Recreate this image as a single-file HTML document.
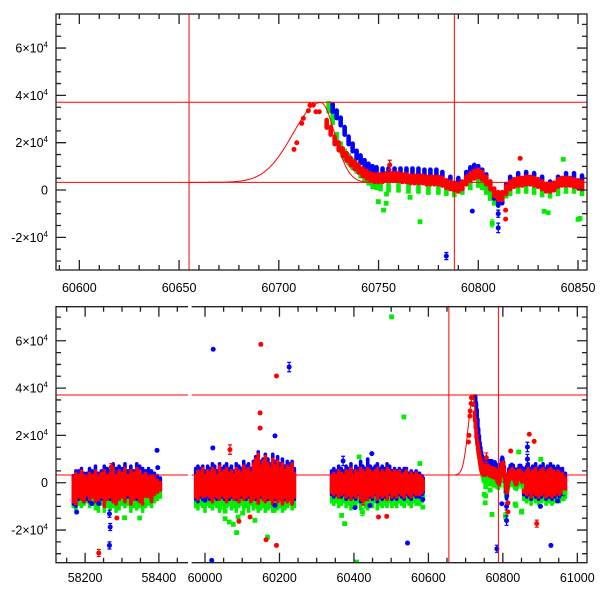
<!DOCTYPE html>
<html><head><meta charset="utf-8"><style>
html,body{margin:0;padding:0;background:#fff;}
svg{display:block;font-family:"Liberation Sans",sans-serif;}
</style></head><body>
<svg id="chart" width="600" height="600" viewBox="0 0 600 600" xmlns="http://www.w3.org/2000/svg">
<rect width="600" height="600" fill="#fff"/>
<defs>
<clipPath id="clipTop"><rect x="56" y="14" width="531" height="256"/></clipPath>
<clipPath id="clipBL"><rect x="56" y="306.7" width="132" height="256"/></clipPath>
<clipPath id="clipBR"><rect x="191.6" y="306.7" width="395.4" height="256"/></clipPath>
</defs>
<g id="layer"></g>
</svg>
<script>
// ---------- DATA (flux in units of 1000) ----------
const hLines = [37.08, 3.25];
const vLines = [60655, 60788];
const modelPeak = 60721, modelBase = 3.25, modelAmp = 33.75;

const aMjd = [58168,58175,58182,58190,58197,58205,58212,58220,58228,58236,58244,58252,58260,58268,58276,58284,58292,58300,58308,58316,58324,58332,58340,58348,58356,58364,58372,58380,58388,58396,58404];
const aRedLo = [-8,-9,-6,-7,-8,-5,-7,-6,-8,-9,-6,-10,-7,-6,-8,-9,-7,-6,-8,-5,-9,-7,-6,-8,-9,-7,-6,-8,-5,-4,-3];
const aRedHi = [2,4,3,5,3,2,4,3,5,2,4,5,3,4,6,3,5,4,6,3,5,4,6,5,3,4,2,3,2,1,0];
const aBlueLo = [-9,-10,-7,-6,-8,-7,-8,-5,-7,-9,-7,-8,-6,-7,-6,-8,-7,-5,-7,-6,-8,-6,-7,-7,-8,-6,-5,-7,-4,-3,-3];
const aBlueHi = [3,5,5,6,4,4,6,5,7,4,5,7,6,5,8,6,7,6,8,5,7,5,8,7,6,5,6,5,4,3,2];
const aGreenLo = [-10,-11,-9,-10,-9,-8,-10,-9,-11,-12,-9,-12,-10,-11,-10,-12,-11,-9,-10,-9,-12,-10,-11,-10,-12,-10,-9,-10,-8,-7,-6];
const aGreenHi = [-3,-2,-3,-2,-4,-3,-2,-3,-2,-4,-3,-2,-3,-2,-1,-3,-2,-3,-1,-3,-2,-3,-1,-2,-3,-2,-3,-2,-3,-3,-2];

const bMjd = [59975,59981,59988,59994,60000,60007,60013,60020,60026,60032,60039,60045,60052,60058,60065,60071,60078,60084,60091,60097,60104,60110,60117,60123,60130,60136,60143,60149,60156,60162,60169,60175,60182,60188,60195,60201,60208,60214,60221,60227,60234,60240];
const bRedLo = [-6,-7,-5,-6,-7,-5,-6,-8,-5,-6,-7,-5,-6,-8,-6,-5,-7,-6,-8,-5,-7,-6,-5,-8,-7,-6,-9,-5,-7,-8,-6,-7,-9,-6,-8,-7,-9,-6,-8,-7,-9,-6];
const bRedHi = [3,5,4,6,3,5,4,6,5,3,7,4,5,6,4,5,3,6,5,4,7,5,6,4,8,10,12,7,9,11,8,6,10,7,9,6,8,5,7,6,8,4];
const bBlueLo = [-7,-8,-6,-7,-6,-6,-7,-7,-6,-7,-6,-6,-7,-7,-7,-6,-6,-7,-7,-6,-6,-7,-6,-7,-6,-7,-8,-6,-6,-7,-7,-6,-8,-7,-7,-6,-8,-7,-7,-6,-8,-7];
const bBlueHi = [6,7,6,7,5,7,6,8,7,5,8,6,7,8,6,7,5,8,7,6,9,7,8,6,9,11,13,9,10,12,10,8,12,9,11,8,10,7,9,8,9,6];
const bGreenLo = [-10,-11,-9,-10,-12,-9,-10,-11,-9,-10,-12,-9,-11,-10,-9,-11,-10,-12,-10,-9,-11,-10,-12,-9,-11,-10,-12,-11,-10,-12,-11,-10,-12,-9,-11,-10,-12,-11,-10,-9,-11,-10];
const bGreenHi = [-2,-1,-3,-2,-1,-3,-2,-1,-2,-3,-1,-2,-1,-3,-2,-1,-2,-3,-1,-2,-1,-3,-2,-1,0,1,-1,0,-1,1,0,-1,0,-1,0,-2,0,-1,-2,0,-1,-2];

const cMjd = [60340,60346,60353,60359,60366,60372,60379,60385,60392,60398,60405,60411,60418,60424,60431,60437,60444,60450,60457,60463,60470,60476,60483,60489,60496,60502,60509,60515,60522,60528,60535,60541,60548,60554,60561,60567,60572,60576,60580,60583,60586];
const cRedLo = [-4,-5,-4,-6,-5,-4,-6,-5,-7,-5,-6,-4,-7,-5,-6,-7,-5,-6,-4,-7,-5,-6,-5,-7,-4,-6,-5,-6,-4,-5,-6,-4,-5,-6,-4,-5,-4,-5,-3,-4,-3];
const cRedHi = [3,4,3,5,4,3,5,4,6,3,5,4,6,5,4,6,5,4,5,6,4,5,4,6,5,4,5,4,5,3,4,5,3,4,3,4,3,3,2,2,1];
const cBlueLo = [-5,-6,-5,-6,-6,-5,-7,-6,-7,-6,-7,-5,-8,-6,-7,-7,-6,-7,-5,-8,-6,-7,-6,-7,-5,-7,-6,-7,-5,-6,-7,-5,-6,-7,-5,-6,-5,-6,-4,-5,-4];
const cBlueHi = [5,6,5,7,6,5,7,6,8,5,7,6,9,7,6,10,7,6,7,8,6,7,6,8,7,5,6,5,6,5,6,6,4,5,4,5,4,4,3,3,2];
const cGreenLo = [-8,-9,-8,-10,-9,-8,-10,-9,-11,-9,-10,-8,-11,-9,-10,-11,-9,-10,-8,-11,-9,-10,-9,-10,-8,-10,-9,-10,-8,-9,-10,-8,-9,-10,-8,-9,-8,-9,-7,-8,-7];
const cGreenHi = [-2,-1,-2,-1,-2,-3,-1,-2,-1,-2,-1,-2,-1,-2,-3,-1,-2,-1,-2,-1,-2,-1,-2,-1,-2,-1,-2,-1,-2,-1,-2,-1,-2,-1,-2,-1,-2,-1,-2,-1,-2];

const eMjd = [60856,60860,60864,60868,60872,60876,60880,60884,60888,60892,60896,60900,60904,60908,60912,60916,60920,60924,60928,60932,60936,60940,60944,60948,60952,60956,60960,60964,60968];
const eRedLo = [-4,-3,-5,-2,-4,-6,-3,-4,-5,-3,-6,-4,-5,-3,-4,-6,-3,-5,-4,-6,-3,-5,-4,-3,-5,-4,-3,-4,-3];
const eRedHi = [4,3,5,6,4,3,5,4,6,3,4,5,3,6,4,3,5,4,6,3,5,4,3,5,4,3,4,2,2];
const eBlueLo = [-5,-4,-6,-3,-5,-7,-4,-5,-6,-4,-7,-5,-6,-4,-5,-7,-4,-6,-5,-7,-4,-6,-5,-4,-6,-5,-4,-5,-4];
const eBlueHi = [6,5,7,8,6,5,7,6,8,5,6,7,5,8,6,5,7,6,8,5,7,6,5,7,6,5,6,4,4];
const eGreenLo = [-7,-6,-8,-5,-7,-9,-6,-7,-8,-6,-9,-7,-8,-6,-7,-9,-6,-8,-7,-9,-6,-8,-7,-6,-8,-7,-6,-7,-6];
const eGreenHi = [-1,0,-1,0,-2,-1,0,-1,-2,0,-1,0,-1,-2,0,-1,0,-1,-2,0,-1,0,-1,-2,0,-1,0,-1,-2];

const dRedMjd = [60724,60726,60728,60730,60732,60734,60736,60738,60740,60742,60744,60746,60748,60750,60752,60754,60756,60758,60760,60762,60764,60766,60768,60770,60772,60774,60776,60778,60780,60782,60784,60786,60788,60790,60792,60794,60796,60798,60800,60802,60804,60806,60808,60810,60812,60814,60816,60818,60820,60822,60824,60826,60828,60830,60832,60834,60836,60838,60840,60842,60844,60846,60848,60850,60852];
const dRedVal = [28,25,21,18.5,16,14,12,10.5,9,7.5,6.5,5.5,5,5,5,5.5,5.5,5.5,5.5,5,5,4.5,4.5,4.5,4.5,4,4,4,4,3.5,2.5,2,1.5,1,2,4,5.5,6.5,7,6,4,2,-1,-2.5,-2.5,0,2,3,3.5,3.5,4,4,3.5,3,2,1,1,1.5,3,3.5,3.5,3.5,3,2.5,2];
const dBlueMjd = [60727,60729,60731,60733,60735,60737,60739,60741,60743,60745,60747,60749,60752,60755,60758,60761,60764,60767,60770,60773,60776,60779,60782,60786,60790,60794,60796,60798,60800,60802,60804,60806,60808,60810,60812,60814,60816,60820,60824,60828,60832,60836,60840,60844,60848,60852];
const dBlueVal = [34.7,32,29,25,21,18,15,13,11,9.5,8.5,8,7.5,7.5,7.5,7.5,7.5,7.5,7.5,7,7,7,6,4,3.5,6,8,9,8.5,7,5,2,-2,-5,-4,1,4,5.5,6,5.5,4,2,4,5.5,5.5,4.5];
const dGreenMjd = [60725,60727,60729,60731,60733,60735,60737,60739,60741,60743,60745,60747,60749,60751,60755,60760,60765,60770,60775,60780,60784,60788,60792,60796,60800,60802,60804,60806,60808,60810,60812,60814,60816,60820,60824,60828,60832,60836,60840,60844,60848,60852];
const dGreenVal = [35,30,22,18,15,13,11,9.5,7.5,6,4.5,3,2.5,2,1.5,1.5,1,1,0.5,0.5,0,-0.5,0.5,2.5,3.5,2.5,0.5,-2,-4,-4,-3,-1,0,1,1,0.5,-0.5,-1,0,1,1,0];

const redPtMjd = [60707.6,60709,60711.5,60712.3,60714.8,60715.6,60717.3,60718.6,60720.3,60755.6,60821,60813.7,60813.7,60150,60192,60148,60148,60067,60091,60121,60164,60192,60425,60466,60488,58237,58286,58271,60871,60884,60891];
const redPtVal = [17.2,20,28.2,30.3,33.5,35.9,35.9,33.1,33.1,10.6,13.4,-8.5,-12.3,58.5,45.1,29.5,23.1,14,-16.3,-14.5,-24.1,-26.5,-7.4,-14.5,-14.2,-29.7,-14.9,6.6,20.5,17.5,-17.3];
const redPtErr = [0,0,0,0,0,0,0,0,0,2,0,0,0,0,0,0,0,2,0,0,0,0,2,0,0,1.5,0,1.5,0,0,1.5];
const bluePtMjd = [60784,60797,60810,60810,60022,60226,60188,60021,60448,60371,60000,60188,60018,60403,60443,60544,60585,58395,58397,58266,58268,58266,58177,58218,58237,60866,60866,60929,60901,60947];
const bluePtVal = [-27.9,-8.9,-10,-16,56.4,48.9,19.8,14.7,12.3,9.2,-7.4,-9.6,-32.8,-10.5,-9.6,-25.5,-7.1,13.7,6.4,-13.1,-18.7,-26.5,-12.4,-8.8,-8.8,15.1,10,-26.5,-10,-7.7];
const bluePtErr = [1.5,0,1.5,2,0,2,0,0,0,2,0,0,0,0,0,0,0,0,0,1.5,1.5,1.5,0,0,0,2,2,0,0,0];
const greenPtMjd = [60749.9,60752.5,60753.8,60754,60770.8,60765.8,60807,60842.6,60833,60851,60501,60534,60414,60577,60040,60054,60065,60076,60085,60089,60101,60054,60134,60143,60168,60186,60367,60375,60423,60585,60407,58307,58348,58366,60902,60850,60835,60967];
const greenPtVal = [-4.9,-8.5,-5.6,-1.7,-13.4,-3.1,-14.1,13,-9,-12,70.1,27.8,10.9,8.1,-10.3,-15.2,-16.6,-17.6,-21.1,-14.5,-12.8,-12,-15.9,-10.3,-23,-11.7,-13.8,-17.3,-12.4,-10.3,-33.5,-14.8,-14.9,-7.4,9.9,-12.4,-9.6,-4.3];
const greenPtErr = [0,0,0,0,0,0,1.5,0,0,0,0,0,0,0,0,0,0,0,0,0,0,0,0,0,0,0,0,0,1.5,0,0,0,0,0,0,0,0,0];

const topXTicks = [60600,60650,60700,60750,60800,60850];
const blXTicks = [58200,58400];
const brXTicks = [60000,60200,60400,60600,60800,61000];
const yTickVals = [60,40,20,0,-20];
const yTickLabels = [["6","4"],["4","4"],["2","4"],["0",""],["-2","4"]];

// ---------- RENDER ----------
const NS = "http://www.w3.org/2000/svg";
const layer = document.getElementById('layer');
const COL = {red:'#ff0000', blue:'#0000ff', green:'#00ee00'};
function mk(tag, attrs, parent){ const e=document.createElementNS(NS,tag); for(const k in attrs) e.setAttribute(k,attrs[k]); (parent||layer).appendChild(e); return e; }

const panels = [
  {id:'top', x0:56, x1:587, y0:14, y1:270, m0:60588.3, m1:60854.5, clip:'clipTop', w:4.6},
  {id:'bottom-left', x0:56, x1:188, y0:306.7, y1:562.7, m0:58121, m1:58479, clip:'clipBL', w:3.6},
  {id:'bottom-right', x0:191.6, x1:587, y0:306.7, y1:562.7, m0:59964, m1:61026, clip:'clipBR', w:3.6}
];
const V0=-33.8, V1=74.4;
panels.forEach(p=>{
  p.sx = m => p.x0 + (m-p.m0)/(p.m1-p.m0)*(p.x1-p.x0);
  p.sy = v => p.y1 - (v-V0)/(V1-V0)*(p.y1-p.y0);
});

function drawBand(g,p,mjd,lo,hi,color,name){
  for(let i=0;i<mjd.length;i++){
    const x=p.sx(mjd[i]); const yt=p.sy(hi[i])-1.8, yb=p.sy(lo[i])+1.8;
    const r=mk('rect',{x:x-p.w/2,y:yt,width:p.w,height:yb-yt,rx:color==='green'?0.6:p.w/2,fill:COL[color]},g);
    
    
  }
}
function drawCentres(g,p,mjd,val,color,name){
  for(let i=0;i<mjd.length;i++){
    const x=p.sx(mjd[i]); const yt=p.sy(val[i]+1.6)-2.3, yb=p.sy(val[i]-1.6)+2.3;
    const r=mk('rect',{x:x-p.w/2,y:yt,width:p.w,height:yb-yt,rx:color==='green'?0.6:p.w/2,fill:COL[color]},g);
    
    
  }
}
function drawPoints(g,p,mjd,val,err,color,name){
  for(let i=0;i<mjd.length;i++){
    const x=p.sx(mjd[i]), y=p.sy(val[i]);
    if(err[i]>0){
      const ya=p.sy(val[i]+err[i]), yb=p.sy(val[i]-err[i]);
      const eb=mk('path',{d:`M${x},${ya}V${yb}M${x-2},${ya}H${x+2}M${x-2},${yb}H${x+2}`,stroke:COL[color],'stroke-width':1.2,fill:'none'},g);
      
      
    }
    let m;
    if(color==='green') m=mk('rect',{x:x-2.4,y:y-2.4,width:4.8,height:4.8,fill:COL[color]},g);
    else m=mk('circle',{cx:x,cy:y,r:2.5,fill:COL[color]},g);
    
    
  }
}
function model(m){
  const d=m-modelPeak, s=d<0?14:7;
  return modelBase + modelAmp*Math.exp(-0.5*(d/s)*(d/s));
}

const bands = [
  [aMjd,aRedLo,aRedHi,aBlueLo,aBlueHi,aGreenLo,aGreenHi],
  [bMjd,bRedLo,bRedHi,bBlueLo,bBlueHi,bGreenLo,bGreenHi],
  [cMjd,cRedLo,cRedHi,cBlueLo,cBlueHi,cGreenLo,cGreenHi],
  [eMjd,eRedLo,eRedHi,eBlueLo,eBlueHi,eGreenLo,eGreenHi]
];

panels.forEach(p=>{
  const g=mk('g',{'clip-path':`url(#${p.clip})`});
  
  
  ['green','blue','red'].forEach((c,ci)=>{
    bands.forEach(b=>{ drawBand(g,p,b[0],b[5-ci*2],b[6-ci*2],c,c+'-band-point'); });
  });
  drawCentres(g,p,dGreenMjd,dGreenVal,'green','green-outburst-point');
  drawCentres(g,p,dBlueMjd,dBlueVal,'blue','blue-outburst-point');
  drawCentres(g,p,dRedMjd,dRedVal,'red','red-outburst-point');
  drawPoints(g,p,greenPtMjd,greenPtVal,greenPtErr,'green','green-point');
  drawPoints(g,p,bluePtMjd,bluePtVal,bluePtErr,'blue','blue-point');
  drawPoints(g,p,redPtMjd,redPtVal,redPtErr,'red','red-point');
  hLines.forEach(v=>{
    const l=mk('line',{x1:p.x0,x2:p.x1,y1:p.sy(v),y2:p.sy(v),stroke:'#ff0000','stroke-width':1},g);
    
    
  });
  vLines.forEach(m=>{
    const l=mk('line',{x1:p.sx(m),x2:p.sx(m),y1:p.y0,y2:p.y1,stroke:'#ff0000','stroke-width':1},g);
    
    
  });
  let d='';
  for(let m=vLines[0]; m<=60790; m+=0.5){ d+=(d?'L':'M')+p.sx(m).toFixed(2)+','+p.sy(model(m)).toFixed(2); }
  const c=mk('path',{d:d,stroke:'#ff0000','stroke-width':1,fill:'none'},g);
  
  
});

// ---------- AXES ----------
const ax=mk('g',{stroke:'#222','stroke-width':1.3,fill:'none'});


const lbl=mk('g',{'font-size':'12.5',fill:'#000'});



function xTicks(p, minorStep, majorStep, labels, labelY){
  let d='';
  const start=Math.ceil(p.m0/minorStep)*minorStep;
  for(let m=start; m<=p.m1; m+=minorStep){
    const x=p.sx(m), maj=(Math.round(m)%majorStep===0), L=maj?10:5;
    d+=`M${x},${p.y1}V${p.y1-L}M${x},${p.y0}V${p.y0+L}`;
  }
  mk('path',{d:d},ax);
  labels.forEach(v=>{
    const t=mk('text',{x:p.sx(v),y:labelY,'text-anchor':'middle'},lbl);
    t.textContent=String(v);
    
    
  });
}
function yTicks(p, side){
  let d='';
  for(let v=-30; v<=70; v+=5){
    const y=p.sy(v), maj=(v%20===0), L=maj?10:5;
    if(side!=='right') d+=`M${p.x0},${y}H${p.x0+L}`;
    if(side!=='left') d+=`M${p.x1},${y}H${p.x1-L}`;
  }
  mk('path',{d:d},ax);
}
function yLabels(p){
  yTickVals.forEach((v,i)=>{
    const t=mk('text',{x:48,y:p.sy(v)+4.5,'text-anchor':'end'},lbl);
    
    
    const [a,e]=yTickLabels[i];
    if(e){ t.textContent=a+'×10'; const s=document.createElementNS(NS,'tspan'); s.setAttribute('font-size','8'); s.setAttribute('dy','-5'); s.textContent=e; t.appendChild(s); }
    else t.textContent=a;
  });
}
const [pt,pbl,pbr]=panels;
mk('rect',{x:pt.x0,y:pt.y0,width:pt.x1-pt.x0,height:pt.y1-pt.y0},ax);
xTicks(pt,10,50,topXTicks,292);
yTicks(pt,'both'); yLabels(pt);
mk('path',{d:`M${pbl.x1},${pbl.y0}H${pbl.x0}V${pbl.y1}H${pbl.x1}`},ax);
xTicks(pbl,50,200,blXTicks,582);
yTicks(pbl,'left'); yLabels(pbl);
mk('path',{d:`M${pbr.x0},${pbr.y0}H${pbr.x1}V${pbr.y1}H${pbr.x0}`},ax);
xTicks(pbr,50,200,brXTicks,582);
yTicks(pbr,'right');
</script>
</body></html>
